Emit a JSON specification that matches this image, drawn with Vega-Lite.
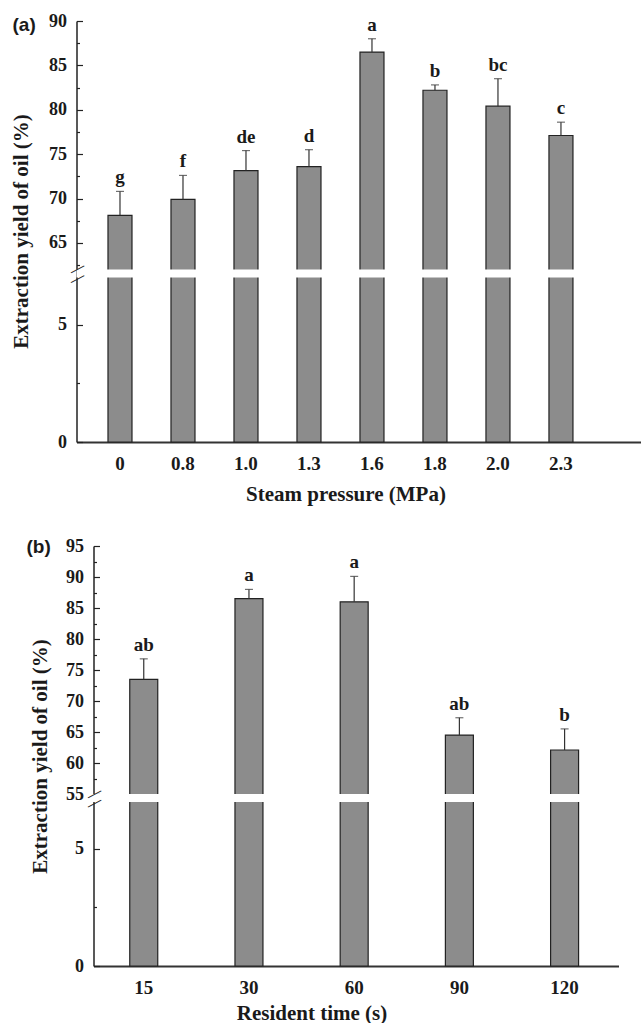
{
  "$schema": "https://vega.github.io/schema/vega-lite/v6.json",
  "padding": {"left": 10.5, "top": 12, "right": 0, "bottom": 0},
  "background": "white",
  "datasets": {
    "a": [
      {"p": "0", "v": 68.1, "hi": 70.8, "sig": "g"},
      {"p": "0.8", "v": 69.9, "hi": 72.6, "sig": "f"},
      {"p": "1.0", "v": 73.15, "hi": 75.4, "sig": "de"},
      {"p": "1.3", "v": 73.6, "hi": 75.5, "sig": "d"},
      {"p": "1.6", "v": 86.5, "hi": 88.0, "sig": "a"},
      {"p": "1.8", "v": 82.2, "hi": 82.8, "sig": "b"},
      {"p": "2.0", "v": 80.4, "hi": 83.5, "sig": "bc"},
      {"p": "2.3", "v": 77.1, "hi": 78.6, "sig": "c"}
    ],
    "b": [
      {"t": "15", "v": 73.5, "hi": 76.8, "sig": "ab"},
      {"t": "30", "v": 86.5, "hi": 88.0, "sig": "a"},
      {"t": "60", "v": 86.0, "hi": 90.1, "sig": "a"},
      {"t": "90", "v": 64.5, "hi": 67.3, "sig": "ab"},
      {"t": "120", "v": 62.1, "hi": 65.5, "sig": "b"}
    ]
  },
  "config": {
    "view": {"stroke": null},
    "font": "Liberation Serif",
    "axis": {
      "grid": false,
      "zindex": 0,
      "labelOverlap": false,
      "labelFont": "Liberation Serif",
      "labelFontWeight": "bold",
      "labelColor": "#1a1a1a",
      "titleFont": "Liberation Serif",
      "titleFontWeight": "bold",
      "titleColor": "#1a1a1a",
      "domainColor": "#222222",
      "tickColor": "#222222"
    }
  },
  "spacing": 33,
  "resolve": {"scale": {"x": "independent", "y": "independent"}},
  "vconcat": [
    {
      "width": 564,
      "height": 421,
      "title": {"text": "(a)", "orient": "top", "anchor": "start", "frame": "group", "offset": 0, "dx": -64, "dy": 32, "baseline": "middle", "font": "Liberation Sans", "fontSize": 19, "fontWeight": "bold", "color": "#1a1a1a"},
      "data": {"name": "a"},
      "resolve": {"axis": {"y": "independent"}},
      "layer": [
        {
          "mark": {"type": "bar", "fill": "#8c8c8c", "stroke": "#222222", "strokeWidth": 1.2},
          "encoding": {
            "x": {"field": "p", "type": "nominal", "sort": null,
                  "scale": {"type": "band", "paddingInner": 0.619, "paddingOuter": 0.786, "align": 0.318},
                  "axis": {"title": "Steam pressure (MPa)", "labelAngle": 0, "ticks": false, "domainWidth": 2, "domainColor": "#333333",
                           "labelPadding": 12, "labelFontSize": 19, "titleFontSize": 21,
                           "titleX": 269, "titleY": 58, "titleAlign": "center", "titleBaseline": "alphabetic"}},
            "y": {"field": "v", "type": "quantitative",
                  "scale": {"type": "linear", "domain": [0, 7, 62, 90], "range": [421, 256.5, 248.5, 0], "nice": false, "zero": false},
                  "axis": {
                    "orient": "left",
                    "values": [0, 2.5, 5, 62.5, 65, 67.5, 70, 72.5, 75, 77.5, 80, 82.5, 85, 87.5, 90],
                    "labelExpr": "datum.value % 5 === 0 ? format(datum.value, 'd') : ''",
                    "labelOverlap": false,
                    "tickSize": {"condition": {"test": "datum.value % 5 === 0", "value": -6}, "value": -3},
                    "tickWidth": 1.2,
                    "labelPadding": 16,
                    "labelFontSize": 18,
                    "domainWidth": 1.5,
                    "title": "Extraction yield of oil (%)",
                    "titleX": -55, "titleY": 210, "titleAngle": 270, "titleAlign": "center", "titleBaseline": "middle", "titleFontSize": 21
                  }}
          }
        },
        {
          "data": {"values": [{}]},
          "mark": {"type": "rect", "fill": "white"},
          "encoding": {
            "y": {"datum": 7, "type": "quantitative",
                  "axis": {"orient": "left", "values": [7.1, 62.2], "labelExpr": "'\u2014'", "labelAngle": -28, "labelAlign": "center", "labelBaseline": "middle",
                           "labelPadding": 0, "ticks": false, "domain": false, "labelOverlap": false, "labelFont": "Liberation Sans", "labelFontWeight": "normal",
                           "labelFontSize": 15, "labelColor": "#222222", "zindex": 2, "title": null}},
            "y2": {"datum": 62}
          }
        },
        {
          "mark": {"type": "rule", "color": "#333333", "strokeWidth": 1.2},
          "encoding": {"x": {"field": "p", "type": "nominal", "sort": null}, "y": {"field": "v", "type": "quantitative", "axis": null}, "y2": {"field": "hi"}}
        },
        {
          "mark": {"type": "tick", "color": "#333333", "thickness": 1.2, "size": 8},
          "encoding": {"x": {"field": "p", "type": "nominal", "sort": null}, "y": {"field": "hi", "type": "quantitative", "axis": null}}
        },
        {
          "mark": {"type": "text", "baseline": "bottom", "dy": -4, "fontSize": 19, "fontWeight": "bold", "font": "Liberation Serif", "color": "#1a1a1a"},
          "encoding": {"x": {"field": "p", "type": "nominal", "sort": null}, "y": {"field": "hi", "type": "quantitative", "axis": null}, "text": {"field": "sig"}}
        }
      ]
    },
    {
      "width": 542,
      "height": 420,
      "title": {"text": "(b)", "orient": "top", "anchor": "start", "frame": "group", "offset": 0, "dx": -50, "dy": 29, "baseline": "middle", "font": "Liberation Sans", "fontSize": 19, "fontWeight": "bold", "color": "#1a1a1a"},
      "data": {"name": "b"},
      "resolve": {"axis": {"y": "independent"}},
      "layer": [
        {
          "mark": {"type": "bar", "fill": "#8c8c8c", "stroke": "#222222", "strokeWidth": 1.2},
          "encoding": {
            "x": {"field": "t", "type": "nominal", "sort": null,
                  "scale": {"type": "band", "range": [17, 542], "paddingInner": 0.734, "paddingOuter": 0.362, "align": 0.476},
                  "axis": {"title": "Resident time (s)", "labelAngle": 0, "ticks": false, "domainWidth": 2, "domainColor": "#333333",
                           "labelPadding": 12, "labelFontSize": 19, "titleFontSize": 21,
                           "titleX": 235, "titleY": 53, "titleAlign": "center", "titleBaseline": "alphabetic"}},
            "y": {"field": "v", "type": "quantitative",
                  "scale": {"type": "linear", "domain": [0, 7, 55, 95], "range": [420, 256, 248, 0], "nice": false, "zero": false},
                  "axis": {
                    "orient": "left",
                    "offset": -17,
                    "values": [0, 2.5, 5, 55, 57.5, 60, 62.5, 65, 67.5, 70, 72.5, 75, 77.5, 80, 82.5, 85, 87.5, 90, 92.5, 95],
                    "labels": false,
                    "tickSize": {"condition": {"test": "datum.value % 5 === 0", "value": -6}, "value": -3},
                    "tickWidth": 1.2,
                    "domainWidth": 1.5,
                    "title": "Extraction yield of oil (%)",
                    "titleX": -53, "titleY": 210, "titleAngle": 270, "titleAlign": "center", "titleBaseline": "middle", "titleFontSize": 21
                  }}
          }
        },
        {
          "data": {"values": [{}]},
          "mark": {"type": "rect", "fill": "white"},
          "encoding": {
            "y": {"datum": 7, "type": "quantitative",
                  "axis": {"orient": "left", "offset": -17, "values": [7.1, 55.2], "labelExpr": "'\u2014'", "labelAngle": -28, "labelAlign": "center", "labelBaseline": "middle",
                           "labelPadding": 0, "ticks": false, "domain": false, "labelOverlap": false, "labelFont": "Liberation Sans", "labelFontWeight": "normal",
                           "labelFontSize": 15, "labelColor": "#222222", "zindex": 2, "title": null}},
            "y2": {"datum": 55}
          }
        },
        {
          "mark": {"type": "rule", "color": "#333333", "strokeWidth": 1.2},
          "encoding": {
            "x": {"field": "t", "type": "nominal", "sort": null},
            "y": {"field": "v", "type": "quantitative",
                  "axis": {"orient": "left", "offset": -17, "values": [0, 5, 55, 60, 65, 70, 75, 80, 85, 90, 95], "format": "d",
                           "domain": false, "ticks": false, "labelPadding": 10, "labelFontSize": 18, "labelOverlap": false, "zindex": 1, "title": null}},
            "y2": {"field": "hi"}
          }
        },
        {
          "mark": {"type": "tick", "color": "#333333", "thickness": 1.2, "size": 8},
          "encoding": {"x": {"field": "t", "type": "nominal", "sort": null}, "y": {"field": "hi", "type": "quantitative", "axis": null}}
        },
        {
          "mark": {"type": "text", "baseline": "bottom", "dy": -4, "fontSize": 19, "fontWeight": "bold", "font": "Liberation Serif", "color": "#1a1a1a"},
          "encoding": {"x": {"field": "t", "type": "nominal", "sort": null}, "y": {"field": "hi", "type": "quantitative", "axis": null}, "text": {"field": "sig"}}
        }
      ]
    }
  ]
}
